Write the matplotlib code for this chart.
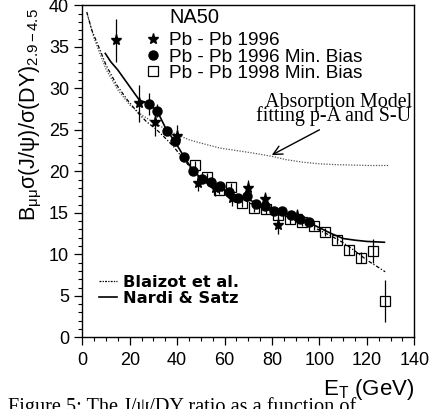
import matplotlib
matplotlib.use('Agg')
import matplotlib.pyplot as plt
from matplotlib.lines import Line2D
from matplotlib.ticker import MultipleLocator

plt.rcParams['font.family'] = ['Liberation Sans', 'DejaVu Sans']
plt.rcParams['mathtext.fontset'] = 'custom'
plt.rcParams['mathtext.rm'] = 'Liberation Sans'
plt.rcParams['mathtext.it'] = 'Liberation Sans:italic'
plt.rcParams['mathtext.bf'] = 'Liberation Sans:bold'

# ---------------- data ----------------
# Pb-Pb 1996 (stars)
star_et = [14.1, 23.9, 30.8, 39.8, 48.9, 56.0, 63.0, 70.0, 77.0, 82.7, 90.4]
star_r = [35.8, 28.2, 26.0, 24.3, 18.6, 17.95, 16.75, 17.95, 16.66, 13.5, 14.6]
star_err = [2.6, 2.2, 1.7, 1.3, 1.0, 0.9, 0.9, 1.0, 0.9, 1.0, 0.8]

# Pb-Pb 1996 Min. Bias (filled circles)
circ_et = [28.2, 31.6, 35.6, 39.2, 43.0, 46.6, 50.4, 54.2, 58.0, 62.0, 65.8,
           69.3, 73.3, 77.0, 80.8, 84.3, 88.0, 91.6, 95.4]
circ_r = [28.1, 27.3, 24.9, 23.6, 21.7, 20.0, 19.1, 18.75, 18.2, 17.5, 16.8,
          17.05, 16.1, 15.8, 15.2, 15.2, 14.7, 14.3, 13.9]
circ_err = [1.3, 0.8, 0.5, 0.5, 0.5, 0.5, 0.4, 0.4, 0.4, 0.4, 0.4,
            0.4, 0.4, 0.4, 0.4, 0.4, 0.4, 0.4, 0.4]

# Pb-Pb 1998 Min. Bias (open squares)
sq_et = [47.5, 52.5, 57.5, 62.5, 67.5, 72.5, 77.5, 82.5, 87.5, 92.5, 97.5,
         102.5, 107.5, 112.5, 117.5, 122.5, 127.5]
sq_r = [20.7, 19.35, 17.75, 18.07, 16.2, 15.6, 15.4, 14.7, 14.2, 13.85, 13.4,
        12.7, 11.7, 10.5, 9.6, 10.4, 4.4]
sq_err = [0.5, 0.5, 0.5, 0.5, 0.5, 0.5, 0.5, 0.5, 0.5, 0.5, 0.5,
          0.5, 0.5, 0.6, 0.7, 1.4, 2.55]

# Nardi & Satz (solid)
ns_et = [9.7, 12, 15, 18, 21, 24, 28, 31.5, 35.5, 39, 43, 46.7, 50, 55, 60, 65,
         70, 75, 80, 85, 90, 95, 100, 105, 110, 115, 120, 127.4]
ns_r = [34.2, 33.2, 32.2, 31.0, 29.8, 28.6, 28.1, 27.3, 25.0, 23.6, 21.7, 20.1,
        19.2, 18.5, 17.7, 17.1, 16.6, 16.0, 15.5, 15.0, 14.5, 13.9, 13.2, 12.5,
        11.9, 11.7, 11.55, 11.45]

# Blaizot et al. (dash-dot)
bl_et = [1.9, 4, 7.5, 10, 14.5, 19, 23.6, 27, 31.4, 35, 38.4, 41.2, 44, 46.5,
         50, 55, 60, 65, 70, 75, 80, 85, 90, 95, 100, 105, 110, 115, 120, 125, 127.7]
bl_r = [39.2, 37.0, 34.6, 32.8, 30.4, 28.6, 27.0, 26.0, 25.0, 24.0, 23.0, 22.0,
        21.0, 20.1, 19.0, 18.2, 17.5, 16.9, 16.3, 15.7, 15.2, 14.7, 14.1, 13.6,
        12.9, 12.2, 11.4, 10.4, 9.3, 8.4, 7.9]

# Absorption model (dotted)
ab_et = [2, 5, 10, 15, 20, 25, 30, 35, 40, 45, 50, 58, 65, 72, 80, 86, 93, 100,
         107, 114, 121, 129]
ab_r = [39.0, 36.0, 32.3, 29.8, 28.0, 26.8, 25.9, 25.1, 24.4, 23.8, 23.4, 22.8,
        22.5, 22.2, 21.8, 21.4, 21.1, 20.9, 20.8, 20.75, 20.7, 20.7]

xticks = [0, 20, 40, 60, 80, 100, 120, 140]
yticks = [0, 5, 10, 15, 20, 25, 30, 35, 40]

# ---------------- figure ----------------
fig = plt.figure(figsize=(4.32, 4.09), dpi=100)
ax = fig.add_axes([82.3 / 432, 1 - 337.3 / 409, 332 / 432, 332 / 409])

ax.plot(ab_et, ab_r, color='#555555', lw=0.9, ls=(0, (1, 1.2)), zorder=2)
ax.plot(bl_et, bl_r, color='k', lw=0.9, ls=(0, (3, 1.5, 1, 1.5)), zorder=2)
ax.plot(ns_et, ns_r, color='k', lw=1.2, ls='-', zorder=2)

ax.errorbar(sq_et, sq_r, yerr=sq_err, fmt='s', ms=6.5, mfc='none', mec='k',
            mew=0.9, ecolor='k', elinewidth=0.9, capsize=0, zorder=3)
ax.errorbar(circ_et, circ_r, yerr=circ_err, fmt='o', ms=6.5, color='k',
            ecolor='k', elinewidth=0.9, capsize=0, zorder=4)
ax.errorbar(star_et, star_r, yerr=star_err, fmt='*', ms=8, color='k',
            ecolor='k', elinewidth=0.9, capsize=0, zorder=5)

ax.set_xlim(0, 140)
ax.set_ylim(0, 40)
ax.set_xticks(xticks)
ax.set_yticks(yticks)
ax.xaxis.set_minor_locator(MultipleLocator(5))
ax.yaxis.set_minor_locator(MultipleLocator(1))
ax.tick_params(which='major', direction='out', length=5.5, width=0.9,
               labelsize=13, top=False, right=False)
ax.tick_params(which='minor', direction='out', length=3, width=0.8,
               top=False, right=False)
ax.tick_params(axis='x', which='major', pad=5)
ax.tick_params(axis='y', which='major', pad=4)
for s in ax.spines.values():
    s.set_linewidth(1.0)

ax.set_xlabel(r'E$_\mathrm{T}$ (GeV)', fontsize=16, ha='right')
ax.xaxis.set_label_coords(1.0, -0.12)
ax.set_ylabel(r'B$_{\mathrm{\mu\mu}}$σ(J/ψ)/σ(DY)$_{2.9-4.5}$', fontsize=15.5)
ax.yaxis.set_label_coords(-0.115, 0.67)

# NA50 title and data legend
ax.text(36.6, 37.9, 'NA50', fontsize=14.4, ha='left', va='baseline')
h1 = [Line2D([], [], marker='*', ls='none', color='k', ms=8),
      Line2D([], [], marker='o', ls='none', color='k', ms=6.5),
      Line2D([], [], marker='s', ls='none', mfc='none', mec='k', mew=0.9, ms=6.5)]
leg1 = ax.legend(h1, ['Pb - Pb 1996', 'Pb - Pb 1996 Min. Bias',
                      'Pb - Pb 1998 Min. Bias'],
                 loc='upper left', bbox_to_anchor=(0.1834, 0.9196),
                 frameon=False, borderpad=0, borderaxespad=0, fontsize=13.7,
                 handlelength=1.0, handletextpad=0.38, labelspacing=-0.05)
ax.add_artist(leg1)

h2 = [Line2D([], [], color='k', lw=0.9, ls=(0, (1.5, 1, 1, 1))),
      Line2D([], [], color='k', lw=1.2, ls='-')]
leg2 = ax.legend(h2, ['Blaizot et al.', 'Nardi & Satz'],
                 loc='upper left', bbox_to_anchor=(0.049, 0.188),
                 frameon=False, borderpad=0, borderaxespad=0,
                 prop={'family': 'DejaVu Sans', 'weight': 'bold', 'size': 11.7},
                 handlelength=1.15, handletextpad=0.35, labelspacing=0.07)

# absorption annotation
ax.text(108, 27.8, 'Absorption Model', family='Liberation Serif',
        fontsize=14.4, ha='center', va='baseline')
ax.text(105.8, 26.0, 'fitting p-A and S-U', family='Liberation Serif',
        fontsize=14.4, ha='center', va='baseline')
ax.annotate('', xy=(79.9, 21.96), xytext=(100, 25.0),
            arrowprops=dict(arrowstyle='->', lw=1.0, color='k',
                            mutation_scale=16, shrinkA=0, shrinkB=0))

# clipped caption
fig.text(8 / 432, -0.0075, 'Figure 5: The J/ψ/DY ratio as a function of',
         family='Liberation Serif', fontsize=14.6, ha='left', va='baseline')

fig.savefig('out.png', dpi=100)
